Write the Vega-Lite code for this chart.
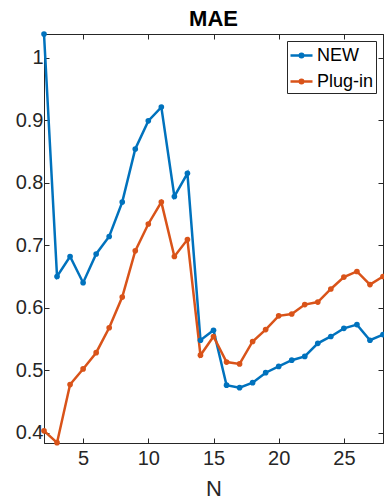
{
  "$schema": "https://vega.github.io/schema/vega-lite/v6.json",
  "width": 339,
  "height": 409,
  "autosize": {"type": "none"},
  "padding": {"left": 44, "top": 34, "right": 1, "bottom": 58},
  "background": "white",
  "title": {"text": "MAE", "font": "Liberation Sans", "fontSize": 22, "fontWeight": "bold", "color": "#000000", "anchor": "middle", "offset": -2},
  "data": {"values": [
    {"N": 2, "series": "NEW", "MAE": 1.038},
    {"N": 3, "series": "NEW", "MAE": 0.650},
    {"N": 4, "series": "NEW", "MAE": 0.682},
    {"N": 5, "series": "NEW", "MAE": 0.640},
    {"N": 6, "series": "NEW", "MAE": 0.686},
    {"N": 7, "series": "NEW", "MAE": 0.714},
    {"N": 8, "series": "NEW", "MAE": 0.769},
    {"N": 9, "series": "NEW", "MAE": 0.854},
    {"N": 10, "series": "NEW", "MAE": 0.899},
    {"N": 11, "series": "NEW", "MAE": 0.921},
    {"N": 12, "series": "NEW", "MAE": 0.778},
    {"N": 13, "series": "NEW", "MAE": 0.815},
    {"N": 14, "series": "NEW", "MAE": 0.548},
    {"N": 15, "series": "NEW", "MAE": 0.564},
    {"N": 16, "series": "NEW", "MAE": 0.476},
    {"N": 17, "series": "NEW", "MAE": 0.472},
    {"N": 18, "series": "NEW", "MAE": 0.480},
    {"N": 19, "series": "NEW", "MAE": 0.496},
    {"N": 20, "series": "NEW", "MAE": 0.506},
    {"N": 21, "series": "NEW", "MAE": 0.516},
    {"N": 22, "series": "NEW", "MAE": 0.522},
    {"N": 23, "series": "NEW", "MAE": 0.543},
    {"N": 24, "series": "NEW", "MAE": 0.554},
    {"N": 25, "series": "NEW", "MAE": 0.567},
    {"N": 26, "series": "NEW", "MAE": 0.573},
    {"N": 27, "series": "NEW", "MAE": 0.548},
    {"N": 28, "series": "NEW", "MAE": 0.557},
    {"N": 2, "series": "Plug-in", "MAE": 0.403},
    {"N": 3, "series": "Plug-in", "MAE": 0.384},
    {"N": 4, "series": "Plug-in", "MAE": 0.477},
    {"N": 5, "series": "Plug-in", "MAE": 0.502},
    {"N": 6, "series": "Plug-in", "MAE": 0.528},
    {"N": 7, "series": "Plug-in", "MAE": 0.568},
    {"N": 8, "series": "Plug-in", "MAE": 0.617},
    {"N": 9, "series": "Plug-in", "MAE": 0.691},
    {"N": 10, "series": "Plug-in", "MAE": 0.734},
    {"N": 11, "series": "Plug-in", "MAE": 0.769},
    {"N": 12, "series": "Plug-in", "MAE": 0.682},
    {"N": 13, "series": "Plug-in", "MAE": 0.709},
    {"N": 14, "series": "Plug-in", "MAE": 0.524},
    {"N": 15, "series": "Plug-in", "MAE": 0.554},
    {"N": 16, "series": "Plug-in", "MAE": 0.513},
    {"N": 17, "series": "Plug-in", "MAE": 0.510},
    {"N": 18, "series": "Plug-in", "MAE": 0.546},
    {"N": 19, "series": "Plug-in", "MAE": 0.565},
    {"N": 20, "series": "Plug-in", "MAE": 0.587},
    {"N": 21, "series": "Plug-in", "MAE": 0.590},
    {"N": 22, "series": "Plug-in", "MAE": 0.605},
    {"N": 23, "series": "Plug-in", "MAE": 0.609},
    {"N": 24, "series": "Plug-in", "MAE": 0.630},
    {"N": 25, "series": "Plug-in", "MAE": 0.649},
    {"N": 26, "series": "Plug-in", "MAE": 0.658},
    {"N": 27, "series": "Plug-in", "MAE": 0.637},
    {"N": 28, "series": "Plug-in", "MAE": 0.650}
  ]},
  "layer": [
    {
      "mark": {"type": "line", "strokeWidth": 2.5, "point": {"filled": true, "size": 32}},
      "encoding": {
        "x": {"field": "N", "type": "quantitative", "scale": {"domain": [2, 28], "nice": false, "zero": false},
              "axis": {"orient": "bottom", "values": [5, 10, 15, 20, 25], "title": "N", "tickSize": -5, "labelPadding": 10, "titlePadding": 10}},
        "y": {"field": "MAE", "type": "quantitative", "scale": {"domain": [0.3835, 1.038], "nice": false, "zero": false},
              "axis": {"orient": "left", "values": [0.4, 0.5, 0.6, 0.7, 0.8, 0.9, 1.0], "format": ".1~f", "title": null, "tickSize": -5, "labelPadding": 6}},
        "color": {"field": "series", "type": "nominal",
                  "scale": {"domain": ["NEW", "Plug-in"], "range": ["#0072BD", "#D95319"]},
                  "legend": {
                    "title": null, "orient": "top-right", "offset": 7,
                    "symbolType": "M-1,0H1M0.16,0A0.16,0.16 0 1 1 -0.16,0A0.16,0.16 0 1 1 0.16,0Z",
                    "symbolSize": 484, "symbolStrokeWidth": 2.5,
                    "labelFont": "Liberation Sans", "labelFontSize": 18, "labelColor": "#000000", "labelOffset": 3,
                    "padding": 2, "rowPadding": 4,
                    "strokeColor": "#262626", "fillColor": "white",
                    "encode": {"symbols": {"update": {"fill": {"scale": "color", "field": "value"}, "stroke": {"scale": "color", "field": "value"}, "opacity": {"value": 1}}}}
                  }}
      }
    },
    {
      "mark": {"type": "point", "opacity": 0},
      "encoding": {
        "x": {"field": "N", "type": "quantitative", "scale": {"domain": [2, 28], "nice": false, "zero": false},
              "axis": {"orient": "top", "values": [5, 10, 15, 20, 25], "labelExpr": "''", "labelFontSize": 1, "title": null, "tickSize": -5, "labelPadding": 0, "domain": true, "ticks": true}},
        "y": {"field": "MAE", "type": "quantitative", "scale": {"domain": [0.3835, 1.038], "nice": false, "zero": false},
              "axis": {"orient": "right", "values": [0.4, 0.5, 0.6, 0.7, 0.8, 0.9, 1.0], "labelExpr": "''", "labelFontSize": 1, "title": null, "tickSize": -5, "labelPadding": 0, "domain": true, "ticks": true}}
      }
    }
  ],
  "resolve": {"scale": {"x": "independent", "y": "independent"}, "axis": {"x": "independent", "y": "independent"}},
  "config": {
    "view": {"stroke": "#262626", "strokeWidth": 1},
    "axis": {
      "grid": false, "domainColor": "#262626", "tickColor": "#262626", "domainWidth": 1, "tickWidth": 1,
      "labelFont": "Liberation Sans", "labelFontSize": 20, "labelColor": "#262626",
      "titleFont": "Liberation Sans", "titleFontSize": 22, "titleFontWeight": "normal", "titleColor": "#262626"
    }
  }
}
